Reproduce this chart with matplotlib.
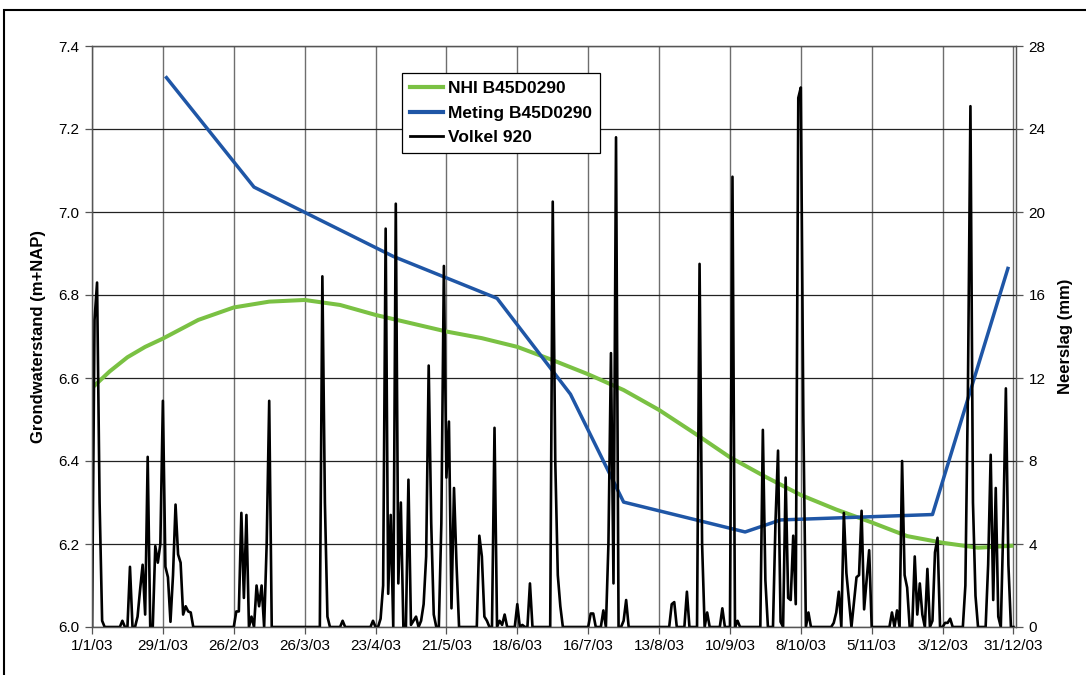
import datetime as dt
import numpy as np
import matplotlib
matplotlib.use('Agg')
import matplotlib.pyplot as plt
from matplotlib.patches import Rectangle
from matplotlib.lines import Line2D
from matplotlib.ticker import FormatStrFormatter

plt.rcParams['font.family'] = ['Liberation Sans', 'DejaVu Sans']

start = dt.datetime(2003, 1, 1)

# Dagelijkse neerslag Volkel 920 (mm), per maand
rain_jan = [0, 14.8, 16.6, 6.0, 0.3, 0, 0, 0, 0, 0, 0, 0, 0.3, 0, 0, 2.9,
            0, 0, 0.5, 1.8, 3.0, 0.6, 8.2, 0, 0, 3.9, 3.1, 4.0, 10.9, 2.9, 2.4]
rain_feb = [0.25, 2.5, 5.9, 3.5, 3.1, 0.6, 1.0, 0.75, 0.7, 0, 0, 0, 0, 0,
            0, 0, 0, 0, 0, 0, 0, 0, 0, 0, 0, 0, 0.75, 0.75]
rain_mar = [5.5, 1.4, 5.4, 0, 0.5, 0, 2.0, 1.0, 2.0, 0, 4.0, 10.9, 0, 0, 0,
            0, 0, 0, 0, 0, 0, 0, 0, 0, 0, 0, 0, 0, 0, 0, 0]
rain_apr = [0, 16.9, 6.0, 0.5, 0, 0, 0, 0, 0, 0.3, 0, 0, 0, 0, 0, 0, 0, 0,
            0, 0, 0, 0.3, 0, 0, 0.4, 2.0, 19.2, 1.6, 5.4, 0]
rain_may = [20.4, 2.1, 6.0, 0, 0, 7.1, 0.1, 0.3, 0.5, 0, 0.3, 1.1, 3.4, 12.6,
            5.0, 0.6, 0, 0, 5.0, 17.4, 7.2, 9.9, 0.9, 6.7, 3.0, 0, 0, 0, 0, 0, 0]
rain_jun = [0, 0, 4.4, 3.4, 0.5, 0.3, 0, 0, 9.6, 0, 0.3, 0.1, 0.6, 0, 0, 0,
            0, 1.1, 0, 0.1, 0, 0, 2.1, 0, 0, 0, 0, 0, 0, 0]
rain_jul = [0, 20.5, 8.0, 2.5, 1.0, 0, 0, 0, 0, 0, 0, 0, 0, 0, 0, 0, 0.65,
            0.65, 0, 0, 0, 0.8, 0, 4.0, 13.2, 2.1, 23.6, 0, 0, 0.3, 1.3]
rain_aug = [0, 0, 0, 0, 0, 0, 0, 0, 0, 0, 0, 0, 0, 0, 0, 0, 0, 1.1, 1.2, 0,
            0, 0, 0, 1.7, 0, 0, 0, 0, 17.5, 4.0, 0]
rain_sep = [0.7, 0, 0, 0, 0, 0, 0.9, 0, 0, 0, 21.7, 0, 0.3, 0, 0, 0, 0, 0,
            0, 0, 0, 0, 9.5, 2.25, 0, 0, 0, 5.1, 8.5, 0.25]
rain_oct = [0, 7.2, 1.4, 1.3, 4.4, 1.1, 25.5, 26.0, 10.0, 0, 0.7, 0, 0, 0, 0,
            0, 0, 0, 0, 0, 0.2, 0.7, 1.7, 0, 5.5, 2.6, 1.3, 0, 1.2, 2.4, 2.5]
rain_nov = [5.6, 0.85, 2.3, 3.7, 0, 0, 0, 0, 0, 0, 0, 0, 0.7, 0, 0.8, 0, 8.0,
            2.5, 1.9, 0, 0, 3.4, 0.6, 2.1, 0.6, 0, 2.8, 0, 0.3, 3.6]
rain_dec = [4.3, 0, 0, 0.2, 0.2, 0.4, 0, 0, 0, 0, 0, 2.0, 11.3, 25.1, 6.0, 1.5,
            0, 0, 0, 0, 3.0, 8.3, 1.3, 6.7, 0.5, 0, 5.0, 11.5, 3.0, 0, 0]

rain_mm = (rain_jan + rain_feb + rain_mar + rain_apr + rain_may + rain_jun +
           rain_jul + rain_aug + rain_sep + rain_oct + rain_nov + rain_dec)
rain_dates = [start + dt.timedelta(days=i) for i in range(len(rain_mm))]

# NHI modelberekening B45D0290 (m+NAP), dagnummer in 2003
nhi_day = [0, 7, 14, 21, 28, 42, 56, 70, 84, 98, 112, 126, 140, 154, 168, 182,
           196, 210, 224, 238, 252, 266, 280, 294, 308, 322, 336, 350, 364]
nhi_level = [6.576, 6.616, 6.650, 6.675, 6.695, 6.740, 6.770, 6.784, 6.788,
             6.776, 6.752, 6.732, 6.712, 6.696, 6.675, 6.643, 6.609, 6.571,
             6.523, 6.467, 6.409, 6.362, 6.318, 6.283, 6.252, 6.219, 6.203,
             6.191, 6.196]

# Gemeten grondwaterstand B45D0290 (m+NAP)
meting_day = [29, 64, 119, 160, 189, 210, 258, 272, 332, 362]
meting_level = [7.327, 7.060, 6.893, 6.792, 6.561, 6.301, 6.229, 6.258,
                6.271, 6.868]

tick_labels = ['1/1/03', '29/1/03', '26/2/03', '26/3/03', '23/4/03',
               '21/5/03', '18/6/03', '16/7/03', '13/8/03', '10/9/03',
               '8/10/03', '5/11/03', '3/12/03', '31/12/03']

nhi_dates = [start + dt.timedelta(days=d) for d in nhi_day]
meting_dates = [start + dt.timedelta(days=d) for d in meting_day]
tick_dates = [dt.datetime.strptime(t, '%d/%m/%y') for t in tick_labels]

green = '#7ac143'
blue = '#1f56a6'
grid_col = '#555555'

fig = plt.figure(figsize=(10.86, 6.75), dpi=100)
ax = fig.add_axes([92 / 1086, 48 / 675, 924 / 1086, 581 / 675])
ax2 = ax.twinx()

ax.plot(nhi_dates, nhi_level, color=green, lw=2.9, solid_capstyle='butt',
        label='NHI B45D0290')
ax.plot(meting_dates, meting_level, color=blue, lw=2.5,
        solid_capstyle='butt', label='Meting B45D0290')
ax2.plot(rain_dates, rain_mm, color='black', lw=1.9, label='Volkel 920')

ax.set_xlim(start, start + dt.timedelta(days=365))
ax.set_ylim(6.0, 7.4)
ax.set_yticks(np.arange(6.0, 7.41, 0.2))
ax.yaxis.set_major_formatter(FormatStrFormatter('%.1f'))
ax2.set_ylim(0, 28)
ax2.set_yticks(range(0, 29, 4))

ax.set_xticks(tick_dates)
ax.set_xticklabels(tick_labels)

ax.set_axisbelow(True)
ax.xaxis.grid(True, color='#6e6e6e', lw=1.0)
ax.yaxis.grid(True, color='#222222', lw=0.9)

for a in (ax, ax2):
    for s in a.spines.values():
        s.set_color(grid_col)
        s.set_linewidth(0.9)
    a.tick_params(direction='out', length=5, width=0.9, color=grid_col,
                  labelsize=11, pad=4)

ax.set_ylabel('Grondwaterstand (m+NAP)', fontsize=12, fontweight='bold',
              labelpad=9)
ax2.set_ylabel('Neerslag (mm)', fontsize=12, fontweight='bold', labelpad=9)

handles = [Line2D([], [], color=green, lw=3.0),
           Line2D([], [], color=blue, lw=3.0),
           Line2D([], [], color='black', lw=2.0)]
labels = ['NHI B45D0290', 'Meting B45D0290', 'Volkel 920']
leg = ax2.legend(handles, labels, loc='upper left',
                 bbox_to_anchor=(0.3355, 0.9535), fancybox=False,
                 edgecolor='black', framealpha=1, handlelength=1.9,
                 handletextpad=0.3, labelspacing=0.55, borderpad=0.45,
                 borderaxespad=0, prop={'weight': 'bold', 'size': 12.5})
leg.get_frame().set_linewidth(0.9)

# kader rond de hele grafiek
fig.patches.append(Rectangle((4 / 1086, -0.1), 1.2, 1.1 - 10 / 675,
                             transform=fig.transFigure, fill=False,
                             edgecolor='black', lw=1.5, clip_on=False))

fig.savefig('out.png', dpi=100)
